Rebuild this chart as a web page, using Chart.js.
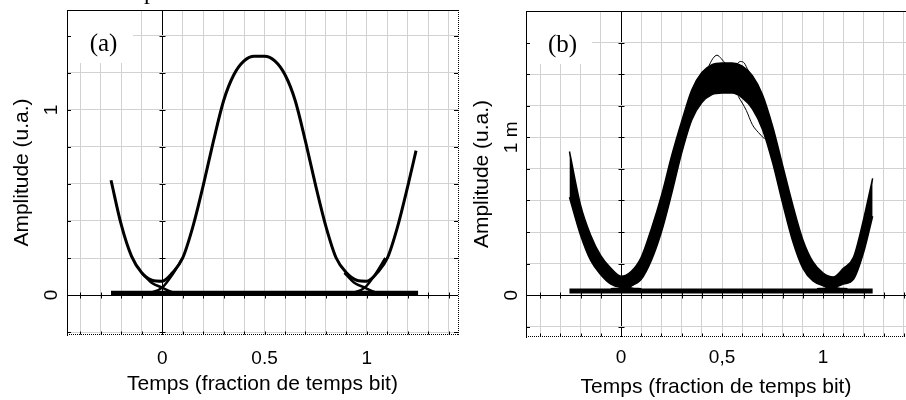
<!DOCTYPE html>
<html>
<head>
<meta charset="utf-8">
<script src="https://cdn.jsdelivr.net/npm/chart.js@4.4.1/dist/chart.umd.min.js"></script>
<style>
  body { margin: 0; background: #fff; }
  #wrap { position: relative; width: 906px; height: 400px; overflow: hidden; background: #fff; }
  canvas { position: absolute; top: 0; }
  #chartA { left: 0; }
  #chartB { left: 460px; }
</style>
</head>
<body>
<div id="wrap">
  <canvas id="chartA" width="470" height="400"></canvas>
  <canvas id="chartB" width="446" height="400"></canvas>
</div>
<script>
// Tick labels
const xLabelValues = [0, 0.5, 1];
const xLabelsA = ['0', '0.5', '1'];
const xLabelsB = ['0', '0,5', '1'];
const yLabelValues = [0, 1];
const yLabelsA = ['0', '1'];
const yLabelsB = ['0', '1 m'];

// (a) eye diagram, single clean trace
const timeA = [-0.25, -0.2, -0.15, -0.1, -0.05, 0, 0.05, 0.1, 0.15, 0.2, 0.25, 0.3, 0.35, 0.4, 0.45, 0.5,
               0.55, 0.6, 0.65, 0.7, 0.75, 0.8, 0.85, 0.9, 0.95, 1.0, 1.05, 1.1, 1.15, 1.2, 1.24];
const eyeA = [0.62, 0.38, 0.21, 0.12, 0.08, 0.075, 0.12, 0.20, 0.37, 0.59, 0.83, 1.05, 1.19, 1.265, 1.29, 1.29,
              1.265, 1.19, 1.05, 0.83, 0.59, 0.37, 0.20, 0.12, 0.08, 0.075, 0.12, 0.20, 0.37, 0.59, 0.78];
const crossTimeAL = [-0.10, -0.05, 0, 0.05, 0.10];
const crossTimeAR = [0.89, 0.94, 0.99, 1.04, 1.09];
const fallA = [0.12, 0.065, 0.04, 0.015, 0.008];
const riseA = [0.008, 0.015, 0.04, 0.11, 0.20];
const zeroTimeA = [-0.25, 1.25];
const zeroLevelA = [0.009, 0.009];

// (b) eye diagram, noisy band (upper / lower envelope)
const timeB = [-0.255, -0.2, -0.15, -0.1, -0.05, 0, 0.05, 0.1, 0.15, 0.2, 0.25, 0.3, 0.35, 0.4, 0.45, 0.5,
               0.55, 0.6, 0.65, 0.7, 0.75, 0.8, 0.85, 0.9, 0.95, 1.0, 1.05, 1.1, 1.15, 1.2, 1.245];
const upperB = [0.91, 0.57, 0.38, 0.25, 0.17, 0.12, 0.15, 0.24, 0.42, 0.63, 0.88, 1.10, 1.30, 1.41, 1.46, 1.47,
                1.47, 1.45, 1.39, 1.27, 1.07, 0.82, 0.57, 0.35, 0.21, 0.14, 0.115, 0.17, 0.24, 0.48, 0.74];
const lowerB = [0.62, 0.38, 0.22, 0.13, 0.07, 0.05, 0.06, 0.10, 0.22, 0.40, 0.64, 0.90, 1.11, 1.22, 1.27, 1.28,
                1.28, 1.25, 1.18, 1.05, 0.84, 0.58, 0.34, 0.17, 0.09, 0.06, 0.05, 0.07, 0.10, 0.27, 0.50];
const crossTimeBL = [-0.05, 0, 0.05, 0.1];
const crossTimeBR = [0.97, 1.02, 1.07, 1.12];
const fallB = [0.10, 0.06, 0.035, 0.03];
const riseB = [0.03, 0.035, 0.07, 0.13];
const zeroTimeB = [-0.255, 1.245];
const zeroLevelB = [0.026, 0.026];
const strayTimeB1 = [0.58, 0.62, 0.65, 0.68, 0.71];
const strayB1 = [1.26, 1.17, 1.08, 1.03, 0.99];
const strayTimeB2 = [0.43, 0.455, 0.475, 0.495, 0.52];
const strayB2 = [1.44, 1.50, 1.52, 1.50, 1.46];
const strayTimeB3 = [0.57, 0.59, 0.61, 0.63];
const strayB3 = [1.46, 1.48, 1.47, 1.42];

function pts(xs, ys) {
    return xs.map((x, i) => ({ x: x, y: ys[i] }));
}

function pickLabel(value, values, texts) {
    const i = values.findIndex(v => Math.abs(v - value) < 1e-9);
    return i >= 0 ? texts[i] : '';
}

function trace(xs, ys, width, extra) {
    return Object.assign({
        data: pts(xs, ys),
        borderColor: '#000',
        borderWidth: width,
        pointRadius: 0,
        fill: false,
        cubicInterpolationMode: 'monotone'
    }, extra || {});
}

const gridColor = (ctx) => Math.abs(ctx.tick.value) < 1e-9 ? '#000' : '#d2d2d2';
const tickFont = { family: '"Liberation Sans", Arial, sans-serif', size: 19 };
const titleFont = { family: '"Liberation Sans", Arial, sans-serif', size: 21 };

// frame: top/right/bottom borders, small tick marks, panel letter
const frame = {
    id: 'frame',
    beforeDatasetsDraw(chart) {
        const a = chart.chartArea;
        const ctx = chart.ctx;
        ctx.save();
        ctx.fillStyle = '#fff';
        ctx.fillRect(a.left + 1, a.top + 1, 65, 52);
        ctx.restore();
    },
    afterDraw(chart, args, opts) {
        const { ctx, chartArea: a, scales: { x, y } } = chart;
        const x0 = Math.round(x.getPixelForValue(0)) + 0.5;
        const y0 = Math.round(y.getPixelForValue(0)) + 0.5;
        const bottom = Math.round(a.bottom) - 0.5;
        ctx.save();
        ctx.strokeStyle = '#000';
        ctx.lineWidth = 1;
        ctx.beginPath();
        ctx.moveTo(a.left, a.top + 0.5);
        ctx.lineTo(a.right, a.top + 0.5);
        x.ticks.forEach(t => {
            const px = Math.round(x.getPixelForValue(t.value)) + 0.5;
            ctx.moveTo(px, y0 - 3);
            ctx.lineTo(px, y0 + 3);
            ctx.moveTo(px, bottom);
            ctx.lineTo(px, bottom - 3);
        });
        y.ticks.forEach(t => {
            const py = Math.round(y.getPixelForValue(t.value)) + 0.5;
            ctx.moveTo(x0 - 3, py);
            ctx.lineTo(x0 + 3, py);
            ctx.moveTo(a.left, py);
            ctx.lineTo(a.left + 4, py);
            if (opts.rightBorder) {
                ctx.moveTo(a.right, py);
                ctx.lineTo(a.right - 4, py);
            }
        });
        ctx.stroke();

        ctx.beginPath();
        ctx.setLineDash([1, 1]);
        ctx.moveTo(a.left, bottom);
        ctx.lineTo(a.right, bottom);
        if (opts.rightBorder) {
            ctx.moveTo(a.right + 0.5, a.top);
            ctx.lineTo(a.right + 0.5, a.bottom);
        }
        ctx.stroke();
        ctx.setLineDash([]);

        ctx.fillStyle = '#000';
        ctx.font = '25px "Liberation Serif", "Times New Roman", serif';
        ctx.textAlign = 'center';
        ctx.textBaseline = 'middle';
        ctx.fillText(opts.letter, a.left + 36.5, a.top + 34);
        if (opts.head) {
            ctx.font = '24px "Liberation Serif", "Times New Roman", serif';
            ctx.textAlign = 'left';
            ctx.textBaseline = 'alphabetic';
            ctx.fillText(opts.head, 144, -1);
        }
        ctx.restore();
    }
};

function makeOptions(cfg) {
    return {
        responsive: false,
        animation: false,
        layout: { padding: cfg.padding },
        plugins: {
            legend: { display: false },
            tooltip: { enabled: false },
            frame: cfg.frame
        },
        scales: {
            x: {
                type: 'linear',
                min: cfg.xMin,
                max: cfg.xMax,
                grid: { color: gridColor, drawTicks: false },
                border: { display: false },
                ticks: {
                    stepSize: 0.1, autoSkip: false, maxTicksLimit: 100, includeBounds: false,
                    maxRotation: 0, padding: cfg.xTickPad, color: '#000', font: tickFont,
                    callback: v => pickLabel(v, xLabelValues, cfg.xLabels)
                },
                title: {
                    display: true, text: 'Temps (fraction de temps bit)', color: '#000',
                    font: titleFont, padding: { top: 0, bottom: 0 }
                },
                afterFit: s => { s.height = cfg.xHeight; s.paddingLeft = 0; s.paddingRight = 0; }
            },
            y: {
                type: 'linear',
                min: cfg.yMin,
                max: cfg.yMax,
                grid: { color: gridColor, drawTicks: false },
                border: { color: '#000' },
                ticks: {
                    stepSize: 0.2, autoSkip: false, maxTicksLimit: 100, includeBounds: false,
                    minRotation: 90, maxRotation: 90, crossAlign: 'center',
                    padding: cfg.yTickPad, color: '#000', font: tickFont,
                    callback: v => pickLabel(v, yLabelValues, cfg.yLabels)
                },
                title: {
                    display: true, text: 'Amplitude (u.a.)', color: '#000',
                    font: titleFont, padding: { top: 10, bottom: 0 }
                },
                afterFit: s => { s.width = cfg.yWidth; s.paddingTop = 0; s.paddingBottom = 0; }
            }
        }
    };
}

const chartA = new Chart(document.getElementById('chartA'), {
    type: 'line',
    data: {
        datasets: [
            trace(zeroTimeA, zeroLevelA, 5, { cubicInterpolationMode: 'default' }),
            trace(timeA, eyeA, 3),
            trace(crossTimeAL, fallA, 2.5),
            trace(crossTimeAL, riseA, 2.5),
            trace(crossTimeAR, fallA, 2.5),
            trace(crossTimeAR, riseA, 2.5)
        ]
    },
    options: makeOptions({
        padding: { top: 10, right: 12, bottom: 3, left: 0 },
        xMin: -0.465, xMax: 1.445, yMin: -0.216, yMax: 1.54,
        xHeight: 62, yWidth: 67, xTickPad: 12, yTickPad: 10,
        xLabels: xLabelsA, yLabels: yLabelsA,
        frame: { letter: '(a)', rightBorder: true, head: 'p' }
    }),
    plugins: [frame]
});

const chartB = new Chart(document.getElementById('chartB'), {
    type: 'line',
    data: {
        datasets: [
            trace(timeB, upperB, 1.5, { fill: '+1', backgroundColor: '#000' }),
            trace(timeB, lowerB, 1.5),
            trace(crossTimeBL, fallB, 5),
            trace(crossTimeBL, riseB, 5),
            trace(crossTimeBR, fallB, 5),
            trace(crossTimeBR, riseB, 5),
            trace(zeroTimeB, zeroLevelB, 5, { cubicInterpolationMode: 'default' }),
            trace(strayTimeB1, strayB1, 1),
            trace(strayTimeB2, strayB2, 1),
            trace(strayTimeB3, strayB3, 1)
        ]
    },
    options: makeOptions({
        padding: { top: 11, right: 0, bottom: 0, left: 0 },
        xMin: -0.47, xMax: 1.41, yMin: -0.265, yMax: 1.80,
        xHeight: 63, yWidth: 66, xTickPad: 9, yTickPad: -2,
        xLabels: xLabelsB, yLabels: yLabelsB,
        frame: { letter: '(b)', rightBorder: false }
    }),
    plugins: [frame]
});
</script>
</body>
</html>
